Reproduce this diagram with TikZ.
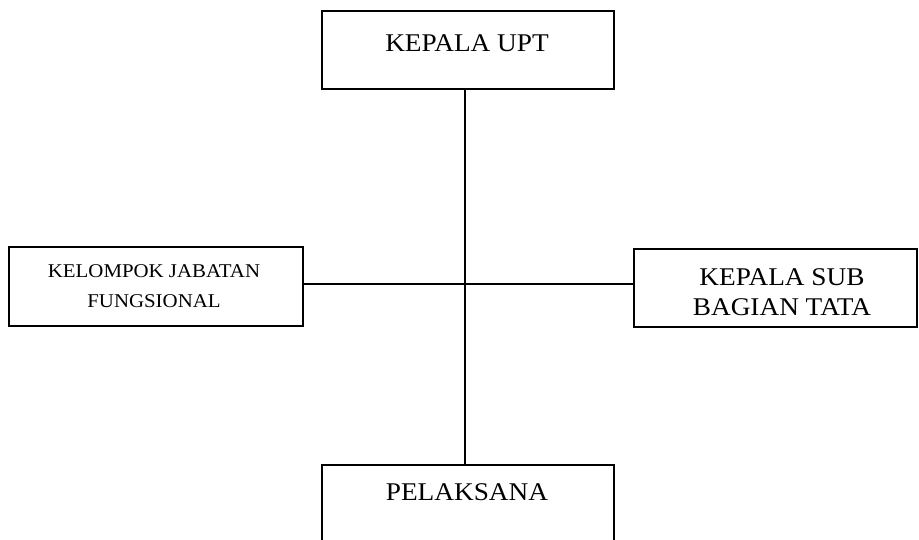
\documentclass[tikz,border=0pt]{standalone}
\usepackage{fontspec}
\setmainfont{Liberation Serif}[FakeStretch=1.07]
\tikzset{
  orgbox/.style={draw=black, line width=1.6pt, rectangle, inner sep=0pt},
  bigtxt/.style={font=\fontsize{25.5}{30}\selectfont, align=center, inner sep=0pt},
  smalltxt/.style={font=\fontsize{19.5}{30}\selectfont, align=center, inner sep=0pt},
  link/.style={draw=black, line width=1.6pt}
}
\begin{document}
\begin{tikzpicture}[x=1pt,y=1pt]
\useasboundingbox (0,0) rectangle (919,540);
\node[orgbox, minimum width=292pt, minimum height=78pt] (top) at (468,490) {};
\node[orgbox, minimum width=294pt, minimum height=79pt] (left) at (156,253.5) {};
\node[orgbox, minimum width=283pt, minimum height=78pt] (right) at (775.5,252) {};
\node[orgbox, minimum width=292pt, minimum height=80pt] (bot) at (468,35) {};
\node[bigtxt] (toptxt) at (467,497) {KEPALA UPT};
\node[smalltxt] (lefttxt) at (154,254) {KELOMPOK JABATAN\\FUNGSIONAL};
\node[bigtxt] (righttxt) at (782,248) {KEPALA SUB\\BAGIAN TATA};
\node[bigtxt] (bottxt) at (467,48) {PELAKSANA};
\coordinate (spine) at (465,256);
\draw[link] (top.south -| spine) -- (bot.north -| spine);
\draw[link] (left.east |- spine) -- (right.west |- spine);
\end{tikzpicture}
\end{document}
